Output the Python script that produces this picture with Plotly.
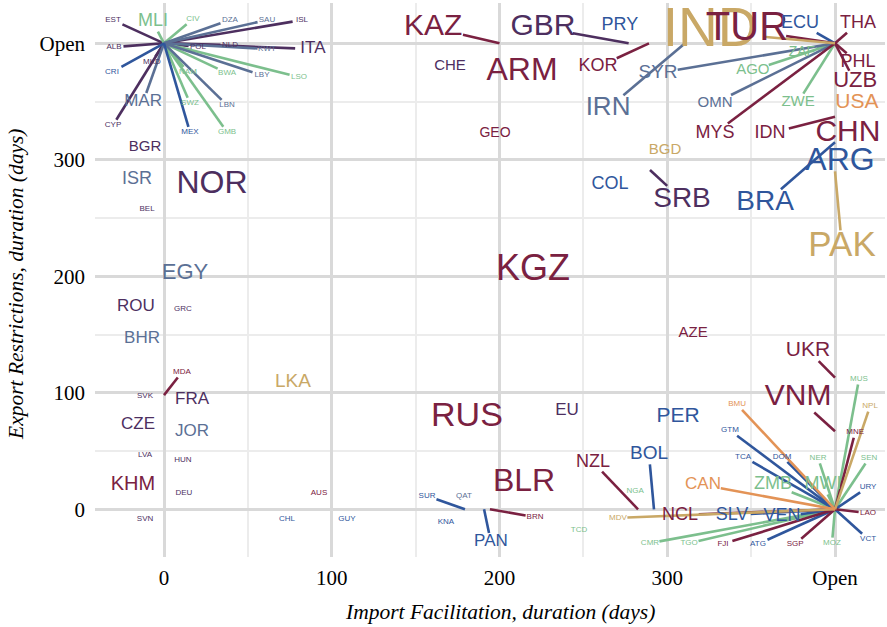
import plotly.graph_objects as go

# ---------------- data ----------------
OPEN = 400  # "Open" is plotted at 400 days

countries = ["EST","MLI","CIV","DZA","SAU","ISL","ALB","ITA","POL","NLD","KWT","MKD","CRI","CYP","MAR",
             "NAM","BWA","LBY","LSO","SWZ","LBN","MEX","GMB",
             "KAZ","GBR","PRY","KOR","CHE","ARM","IRN","SYR","GEO","BGD","IND","TUR","ECU","THA","PHL",
             "UZB","USA","CHN","IDN","MYS","OMN","AGO","ZAF","ZWE","ARG","BRA","PAK","SRB","COL",
             "NOR","BGR","ISR","BEL","EGY","ROU","GRC","BHR","MDA","SVK","FRA","LKA","CZE","JOR","LVA",
             "HUN","KHM","DEU","AUS","SVN","CHL","GUY",
             "KGZ","AZE","UKR","VNM","RUS","EU","PER","BLR",
             "SUR","QAT","KNA","PAN","BRN","TCD","NGA","NZL","MDV","BOL","NCL","CAN","SLV","VEN","ZMB",
             "MWI","BMU","GTM","TCA","DOM","NER","MUS","NPL","MNE","SEN","URY","LAO","VCT","MOZ","SGP",
             "ATG","FJI","TGO","CMR"]

import_days = [0,0,0,0,0,0,0,0,0,0,0,0,0,0,0,
               0,0,0,0,0,0,0,0,
               200,277,277,289.1,170.5,213.4,310.6,OPEN,197.3,298.7,OPEN,OPEN,OPEN,OPEN,OPEN,
               OPEN,OPEN,OPEN,OPEN,OPEN,OPEN,OPEN,OPEN,OPEN,OPEN,OPEN,OPEN,289.7,265.9,
               28.6,-11.3,-16.1,-10.1,12.5,-16.7,11.3,-13.1,0,-11.3,16.7,76.9,-15.5,16.7,-11.3,
               11.3,-18.5,11.9,92.4,-11.3,73.3,109.1,
               220,315.4,OPEN,OPEN,180.6,240.2,306.4,214.6,
               179.4,178.8,168.1,190.8,194.3,247.4,280.8,282.6,OPEN,292.1,OPEN,OPEN,OPEN,OPEN,OPEN,
               OPEN,OPEN,OPEN,OPEN,OPEN,OPEN,OPEN,OPEN,OPEN,OPEN,OPEN,OPEN,OPEN,OPEN,OPEN,
               OPEN,OPEN,OPEN,OPEN]

export_days = [OPEN]*23 + \
              [400,400,400,400,380.3,375.4,400,400,322.9,308.4,400,400,400,400,400,
               400,352,330,337,400,400,400,400,400,300,315,290,291.3,278.4,
               278.4,311,282.8,257.8,202.8,173.6,171.9,146.2,98,97.2,93.8,109.3,72.2,66.3,46.2,
               42,20.9,14,14,-8.5,-8.5,-8.5,
               204.4,151.1,113,67,79,85,79.1,22.6,
               0,11.4,-10.9,0,0,-17.9,15.6,0,0,0,0,0,0,0,0,
               0,0,0,0,0,0,0,0,0,0,0,0,0,0,0,
               0,0,0,0]

# colour group of each country
group = ["pur","grn","grn","sla","sla","pur","pur","pur","pur","pur","sla","pur","blu","pur","sla",
         "grn","grn","sla","grn","grn","sla","blu","grn",
         "mar","pur","blu","mar","pur","mar","sla","sla","mar","gld","gld","mar","blu","mar","mar",
         "mar","org","mar","mar","mar","sla","grn","grn","grn","blu","blu","gld","pur","blu",
         "pur","pur","sla","pur","sla","pur","pur","sla","mar","pur","pur","gld","pur","sla","pur",
         "pur","mar","pur","mar","pur","blu","blu",
         "mar","mar","mar","mar","mar","pur","blu","mar",
         "blu","sla","blu","blu","mar","grn","grn","mar","gld","blu","mar","org","blu","blu","grn",
         "grn","org","blu","blu","blu","grn","grn","gld","mar","grn","blu","mar","blu","grn","mar",
         "blu","mar","grn","grn"]

# ------------- label placement (repelled positions, data units) & sizes -------------
label_x = [-30.4,-6.6,17.3,39.3,61.4,82.3,-29.8,88.8,20.3,39.3,61.4,-7.2,-31.0,-30.4,-12.5,
           14.3,37.6,58.4,80.5,15.5,37.6,15.5,37.6,
           160.4,225.9,271.8,258.7,170.5,213.4,264.7,294.5,197.3,298.7,325.5,347.5,379.1,413.7,413.7,
           412.0,413.0,407.7,361.3,328.5,328.5,351.0,380.3,378.0,403.0,358.3,404.2,308.8,265.9,
           28.6,-11.3,-16.1,-10.1,12.5,-16.7,11.3,-13.1,10.7,-11.3,16.7,76.9,-15.5,16.7,-11.3,
           11.3,-18.5,11.9,92.4,-11.3,73.3,109.1,
           220.0,315.4,383.9,378.0,180.6,240.2,306.4,214.6,
           156.8,178.8,168.1,194.9,221.2,247.4,280.8,255.7,270.6,289.1,307.6,321.3,338.6,368.4,363.0,
           392.8,341.6,337.4,345.2,368.4,389.9,414.3,420.9,412.0,420.3,419.7,419.7,419.7,398.2,376.2,
           354.1,333.2,313.0,289.7]
label_y = [420.0,418.3,420.9,420.0,420.0,420.0,396.8,395.1,396.8,398.5,395.1,383.8,375.2,329.8,349.5,
           375.2,374.4,372.6,370.9,348.6,346.9,323.7,323.7,
           413.2,413.2,415.4,379.7,380.3,375.4,344.4,374.4,322.9,308.4,409.7,411.4,417.2,417.2,383.3,
           366.8,348.8,322.9,322.9,322.9,348.8,377.0,391.7,349.7,298.3,262.9,225.0,265.8,278.4,
           278.4,311.0,282.8,257.8,202.8,173.6,171.9,146.2,117.8,97.2,93.8,109.3,72.2,66.3,46.2,
           42.0,20.9,14.0,14.0,-8.5,-8.5,-8.5,
           204.4,151.1,136.5,95.6,79.0,85.0,79.1,22.6,
           11.4,11.4,-10.9,-28.1,-6.7,-17.9,15.6,40.6,-7.3,47.2,-4.9,20.9,-4.9,-6.5,20.9,
           20.9,90.0,67.7,45.3,45.3,44.0,111.7,88.5,66.0,43.9,19.2,-3.3,-25.6,-29.0,-29.8,
           -29.8,-29.8,-29.0,-29.0]
label_size = [8,18,8,8,8,8,8,17,8,8,8,8,8,8,17,
              8,8,8,8,8,8,8,8,
              30,30,18,18,15,32,26,19,14,15,55,40,18,18,18,
              22,21,30,18,18,15,15,14,15,32,28,35,28,18,
              32,15,18,8,22,17,8,17,8,8,17,19,17,17,8,
              8,20,8,8,8,8,8,
              36,15,21,30,34,17,21,32,
              8,8,8,17,8,8,8,18,8,19,18,17,18,18,18,
              18,8,8,8,8,8,8,8,8,8,8,8,8,8,8,
              8,8,8,8]

palette = {"mar": "#7a2141", "pur": "#4d2f5f", "sla": "#5b7095", "blu": "#2f569c",
           "grn": "#7cbf8d", "gld": "#c9a866", "org": "#e39356"}

# ---------------- geometry ----------------
W, H = 887, 627
ML, MR, MT, MB = 95, 2, 3, 70
X0, X1 = -41.13, 429.8
Y0, Y1 = -40.94, 434.6
sx = (W - ML - MR) / (X1 - X0)
sy = (H - MT - MB) / (Y1 - Y0)

fig = go.Figure()

# leader segments, clipped at the label box (ggrepel style)
segs = {}
for c, px, py, lx, ly, fs, g in zip(countries, import_days, export_days, label_x, label_y, label_size, group):
    dxp = (px - lx) * sx
    dyp = (py - ly) * sy
    hw = 0.31 * fs * len(c) + 2
    hh = 0.42 * fs + 2
    s = min(hw / abs(dxp) if dxp else 1e9, hh / abs(dyp) if dyp else 1e9)
    if s >= 1:
        continue
    length = (1 - s) * (dxp ** 2 + dyp ** 2) ** 0.5
    if length < 10:
        continue
    ex = lx + s * (px - lx)
    ey = ly + s * (py - ly)
    xs, ys = segs.setdefault(g, ([], []))
    xs += [ex, px, None]
    ys += [ey, py, None]

for g, (xs, ys) in segs.items():
    fig.add_trace(go.Scatter(x=xs, y=ys, mode="lines", line=dict(color=palette[g], width=2.6),
                             hoverinfo="skip", showlegend=False, cliponaxis=False))

fig.add_trace(go.Scatter(
    x=label_x, y=label_y, mode="text", text=countries, textposition="middle center",
    textfont=dict(family="Liberation Sans, Arial, sans-serif", size=label_size,
                  color=[palette[g] for g in group]),
    hoverinfo="skip", showlegend=False, cliponaxis=False))

tick_font = dict(family="Liberation Serif, Times New Roman, serif", size=21, color="black")
major = [0, 100, 200, 300, OPEN]
major_txt = ["0", "100", "200", "300", "Open"]
minor = [50, 150, 250, 350]

fig.update_xaxes(range=[X0, X1], tickvals=major, ticktext=major_txt, showgrid=True,
                 gridcolor="#d9d9d9", gridwidth=2.6, zeroline=False, showline=False,
                 ticks="", tickfont=tick_font, ticklabelstandoff=6, automargin=False,
                 minor=dict(tickvals=minor, showgrid=True, gridcolor="#ececec", gridwidth=1.6))
fig.update_yaxes(range=[Y0, Y1], tickvals=major, ticktext=major_txt, showgrid=True,
                 gridcolor="#d9d9d9", gridwidth=2.6, zeroline=False, showline=False,
                 ticks="", tickfont=tick_font, ticklabelstandoff=9, automargin=False,
                 minor=dict(tickvals=minor, showgrid=True, gridcolor="#ececec", gridwidth=1.6))

title_font = dict(family="Liberation Serif, Times New Roman, serif", size=21.5, color="black")
fig.update_layout(
    width=W, height=H, margin=dict(l=ML, r=MR, t=MT, b=MB, autoexpand=False),
    plot_bgcolor="white", paper_bgcolor="white",
    annotations=[
        dict(text="<i>Import Facilitation, duration (days)</i>", xref="paper", yref="paper",
             x=(500 - ML) / (W - ML - MR), y=(H - MB - 612) / (H - MT - MB),
             xanchor="center", yanchor="middle", showarrow=False, font=title_font),
        dict(text="<i>Export Restrictions, duration (days)</i>", xref="paper", yref="paper",
             x=(16 - ML) / (W - ML - MR), y=(H - MB - 284) / (H - MT - MB),
             xanchor="center", yanchor="middle", textangle=-90, showarrow=False, font=title_font),
    ],
)

fig.write_html("out.html", config={"displayModeBar": False},
               post_script="document.body.style.margin='0';")
